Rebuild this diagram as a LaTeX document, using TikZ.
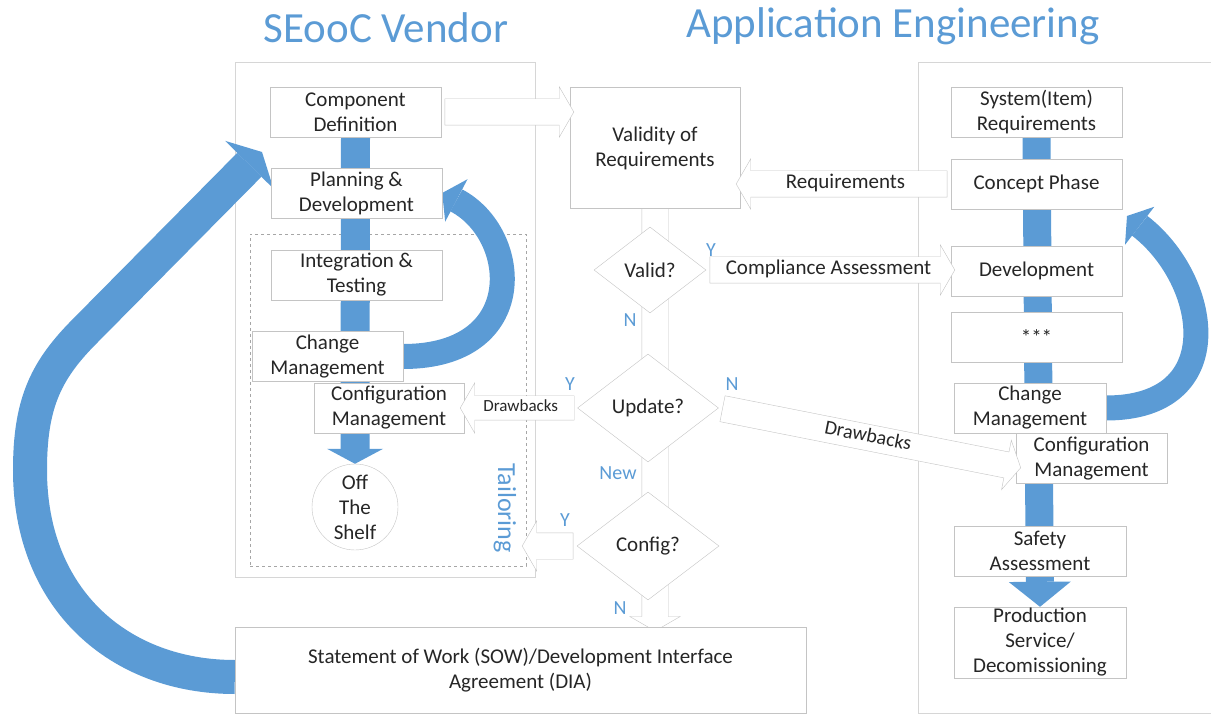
\documentclass[tikz,border=0pt]{standalone}
\usepackage{fontspec}
\setmainfont{Carlito}
\usetikzlibrary{shapes.geometric,shapes.arrows,arrows.meta,calc}
\definecolor{flowblue}{HTML}{5B9BD5}
\definecolor{edgegray}{HTML}{C4C4C4}
\definecolor{framegray}{HTML}{D6D6D6}
\pgfdeclarelayer{frames}
\pgfdeclarelayer{flow}
\pgfsetlayers{frames,flow,main}

\tikzset{
  box/.style={draw=edgegray, fill=white, align=center, inner sep=0pt, text=black!85,
    minimum width=171pt, minimum height=50pt, font=\fontsize{21}{25}\selectfont},
  decision/.style={diamond, draw=edgegray, fill=white, inner sep=0pt, text=black!85,
    font=\fontsize{21}{25}\selectfont},
  hollow/.style={single arrow, draw=edgegray, fill=white, single arrow head extend=12pt,
    single arrow tip angle=120, text height=13pt, text depth=4pt, inner ysep=4.5pt,
    inner xsep=4pt, text=black!85, font=\fontsize{21}{24}\selectfont},
  tag/.style={text=flowblue, inner sep=0pt, font=\fontsize{20}{24}\selectfont},
  title/.style={text=flowblue, inner sep=0pt, font=\fontsize{43}{50}\selectfont},
  frame/.style={draw=framegray},
  flow/.style={draw=flowblue, line width=#1}
}

\begin{document}
\begin{tikzpicture}[x=1pt,y=-1pt]
\useasboundingbox (0,0) rectangle (1211,719);

\node[title] (vendortitle) at (386,28) {SEooC Vendor};
\node[title] (engtitle) at (893,26) {Application Engineering};

\begin{pgfonlayer}{frames}
\draw[frame] (235,62) rectangle (535,577);
\draw[frame] (1230,62) -| (918,713) -- (1230,713);
\node[draw=gray!70, dashed, inner sep=0pt, minimum width=276pt, minimum height=332pt] (tailor) at (388,400) {};
\end{pgfonlayer}

\node[box] (cdef) at (355.5,112) {Component\\Definition};
\node[box] (plan) at (356.5,193) {Planning \&\\Development};
\node[box] (integ) at (356.5,275) {Integration \&\\Testing};
\node[box, minimum width=151pt] (chgL) at (327.5,356.5) {Change\\Management};
\node[box, minimum width=150pt] (cfgL) at (389,408) {Configuration\\Management};
\node[box, circle, minimum size=86pt] (shelf) at (355,507) {Off\\The\\Shelf};

\node[box, minimum width=170pt, minimum height=121pt] (valid) at (655,148) {Validity of\\Requirements};
\node[box, minimum width=571pt, minimum height=86pt] (sow) at (520.5,670) {Statement of Work (SOW)/Development Interface\\Agreement (DIA)};

\node[box] (sysreq) at (1036.5,112) {System(Item)\\Requirements};
\node[box] (concept) at (1036.5,184) {Concept Phase};
\node[box] (devR) at (1036.5,271) {Development};
\node[box] (stars) at (1036.5,337) {***};
\node[box, minimum width=152pt] (chgR) at (1030,408) {Change\\Management};
\node[box, minimum width=151pt] (cfgR) at (1091.5,458.5) {Configuration\\Management};
\node[box, minimum width=172pt] (safety) at (1040,551) {Safety\\Assessment};
\node[box, minimum width=172pt, minimum height=71pt] (prod) at (1040,642.5) {Production\\Service/\\Decomissioning};

\node[decision, minimum width=112pt, minimum height=86pt] (validq) at (650,270) {Valid?};
\node[decision, minimum width=141pt, minimum height=108pt] (updq) at (648,408) {Update?};
\node[decision, minimum width=142pt, minimum height=108pt] (cfgq) at (648,546) {Config?};

\path (cdef.east) -- (cdef.east -| valid.west) node[hollow, midway, minimum height=129pt] (specarrow) {};
\path (concept.west) -- (concept.west -| valid.east) node[hollow, midway, shape border rotate=180, minimum height=211pt] (reqarrow) {Requirements};
\path (validq.east) -- (validq.east -| devR.west) node[hollow, midway, minimum height=245pt] (comparrow) {Compliance Assessment};
\path (updq.west) -- (updq.west -| cfgL.east) node[hollow, midway, shape border rotate=180, minimum height=114pt,
  font=\fontsize{17}{19}\selectfont, text height=11pt, text depth=3pt, inner ysep=5pt, single arrow head extend=13pt] (dbleft) {Drawbacks};
\coordinate (dtip) at (1017,467);
\path (updq.east) -- (dtip) node[hollow, midway, rotate=-11.2, minimum height=304pt, font=\fontsize{20}{24}\selectfont] (dbright) {Drawbacks};
\path (cfgq.west) -- (cfgq.west -| tailor.east) node[hollow, midway, shape border rotate=180, minimum height=51pt] (tailorarrow) {};

\node[tag] (yvalid) at (711,250) {Y};
\node[tag] (nvalid) at (630,320) {N};
\node[tag] (yupd) at (570,384) {Y};
\node[tag] (nupd) at (732,384) {N};
\node[tag] (newupd) at (618,473) {New};
\node[tag] (ycfg) at (565,520) {Y};
\node[tag] (ncfg) at (620,608) {N};
\node[tag, rotate=-90, font=\fontsize{26}{30}\selectfont] (tailoring) at (505,508) {Tailoring};

\begin{pgfonlayer}{flow}
\path ([yshift=20pt]valid.south) -- (valid.south |- sow.north) node[hollow, midway, rotate=-90, minimum height=439pt] (channel) {};
\draw[flow=29pt, -{Triangle[length=15pt,width=56pt,line width=0pt]}] (cdef.south) -- (shelf.north);
\draw[flow=28pt, -{Triangle[length=25pt,width=62pt,line width=0pt]}] (sysreq.south) -- (prod.north);
\draw[flow=25pt, -{Triangle[length=16pt,width=48pt,line width=0pt]}] (chgL.east) .. controls +(127,0) and +(78,41) .. (plan.east);
\coordinate (rtip) at (1127,216);
\draw[flow=25pt, -{Triangle[length=16pt,width=48pt,line width=0pt]}] (chgR.east) .. controls +(124,0) and +(83,64) .. (rtip);
\coordinate (btip) at (262,152);
\draw[flow=34pt, -{Triangle[length=18pt,width=68pt,line width=0pt]}] ([yshift=-7pt]sow.west)
  .. controls (120,677) and (30,600) .. (30,470)
  .. controls (30,405) and (45,372) .. (82,334) -- (btip);
\end{pgfonlayer}
\end{tikzpicture}
\end{document}
